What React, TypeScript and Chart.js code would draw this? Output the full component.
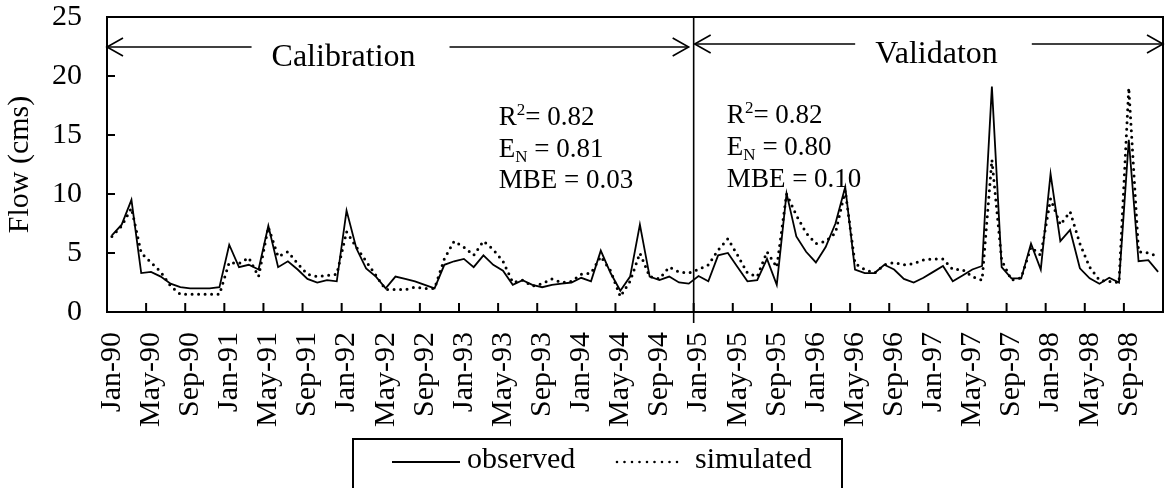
import React, { useEffect, useRef } from 'react';
import { Chart, registerables } from 'chart.js';
Chart.register(...registerables);

const MONTHS = ['Jan', 'Feb', 'Mar', 'Apr', 'May', 'Jun', 'Jul', 'Aug', 'Sep', 'Oct', 'Nov', 'Dec'];
const YEARS = ['90', '91', '92', '93', '94', '95', '96', '97', '98'];
const categories: string[] = YEARS.flatMap((y) => MONTHS.map((m) => `${m}-${y}`));
const TICK_EVERY = 4;

// Calibration period Jan-90 .. Dec-94
const observedCalibration = [
  6.5, 7.4, 9.5, 3.3, 3.4, 3.0, 2.4, 2.1, 2.0, 2.0, 2.0, 2.1,
  5.7, 3.8, 4.0, 3.6, 7.3, 3.8, 4.3, 3.6, 2.8, 2.5, 2.7, 2.6,
  8.6, 5.4, 3.7, 3.0, 2.0, 3.0, 2.8, 2.6, 2.3, 2.0, 4.0, 4.3,
  4.5, 3.8, 4.8, 4.0, 3.5, 2.3, 2.7, 2.3, 2.1, 2.3, 2.4, 2.5,
  2.9, 2.6, 5.2, 3.3, 1.8, 3.0, 7.4, 3.0, 2.7, 3.0, 2.5, 2.4,
];
const simulatedCalibration = [
  6.4, 7.3, 8.8, 5.0, 4.2, 3.4, 2.2, 1.5, 1.5, 1.5, 1.5, 1.5,
  4.2, 4.1, 4.6, 3.0, 7.2, 4.7, 5.1, 4.1, 3.2, 3.0, 3.1, 3.2,
  6.8, 5.5, 4.3, 3.1, 1.9, 1.9, 1.9, 2.1, 2.0, 2.0, 4.5, 6.0,
  5.5, 4.8, 6.0, 5.3, 4.3, 2.5, 2.7, 2.2, 2.4, 2.8, 2.5, 2.6,
  3.2, 3.3, 4.7, 3.5, 1.3, 2.6, 5.0, 3.0, 2.8, 3.8, 3.4, 3.3,
];
// Validation period Jan-95 .. Dec-98
const observedValidation = [
  3.05, 2.6, 4.8, 5.0, 3.8, 2.6, 2.7, 4.5, 2.3, 10.05, 6.4, 5.1,
  4.2, 5.5, 7.5, 10.6, 3.6, 3.3, 3.3, 4.0, 3.6, 2.8, 2.5, 2.9,
  3.4, 3.9, 2.6, 3.1, 3.6, 3.9, 19.1, 3.8, 2.85, 2.85, 5.8, 3.6,
  11.7, 6.0, 6.95, 3.7, 2.85, 2.4, 2.9, 2.5, 14.6, 4.3, 4.4, 3.4,
];
const simulatedValidation = [
  3.6, 4.0, 5.25, 6.2, 4.8, 3.3, 3.0, 5.1, 3.8, 10.0, 8.2, 6.7,
  5.8, 6.0, 6.7, 10.3, 4.1, 3.6, 3.3, 4.0, 4.2, 4.0, 4.1, 4.4,
  4.5, 4.5, 3.6, 3.6, 3.0, 2.7, 12.9, 4.4, 2.7, 2.9, 5.5, 4.8,
  9.6, 7.4, 8.5, 5.8, 3.8, 2.7, 2.6, 2.5, 19.0, 5.1, 5.0, 4.7,
];
const observed = [...observedCalibration, ...observedValidation];
const simulated = [...simulatedCalibration, ...simulatedValidation];

const Y_TICKS = [0, 5, 10, 15, 20, 25];
const calibrationStats = ['0.82', '0.81', '0.03'];
const validationStats = ['0.82', '0.80', '0.10'];
const periodLabels = ['Calibration', 'Validaton'];
const seriesLabels = ['observed', 'simulated'];

const SERIF = '"Liberation Serif", "Times New Roman", Times, serif';

function line(ctx: CanvasRenderingContext2D, x1: number, y1: number, x2: number, y2: number) {
  ctx.beginPath();
  ctx.moveTo(x1, y1);
  ctx.lineTo(x2, y2);
  ctx.stroke();
}

function drawStats(ctx: CanvasRenderingContext2D, left: number, baselines: number[], vals: string[]) {
  const big = `27px ${SERIF}`;
  const small = `17px ${SERIF}`;
  ctx.textAlign = 'left';
  ctx.textBaseline = 'alphabetic';
  let x = left;
  ctx.font = big; ctx.fillText('R', x, baselines[0]); x += ctx.measureText('R').width;
  ctx.font = small; ctx.fillText('2', x, baselines[0] - 10); x += ctx.measureText('2').width;
  ctx.font = big; ctx.fillText('= ' + vals[0], x, baselines[0]);
  x = left;
  ctx.font = big; ctx.fillText('E', x, baselines[1]); x += ctx.measureText('E').width;
  ctx.font = small; ctx.fillText('N', x, baselines[1] + 5); x += ctx.measureText('N').width;
  ctx.font = big; ctx.fillText(' = ' + vals[1], x, baselines[1]);
  ctx.font = big; ctx.fillText('MBE = ' + vals[2], left, baselines[2]);
}

function drawPeriod(
  ctx: CanvasRenderingContext2D, x1: number, x2: number, y: number, textCx: number, textY: number, text: string
) {
  ctx.font = `32px ${SERIF}`;
  ctx.textAlign = 'center';
  ctx.textBaseline = 'alphabetic';
  const w = ctx.measureText(text).width;
  ctx.fillText(text, textCx, textY);
  ctx.lineWidth = 1.6;
  line(ctx, x1, y, textCx - w / 2 - 20, y);
  line(ctx, textCx + w / 2 + 34, y, x2, y);
  const ah = 16, aw = 9;
  ctx.beginPath();
  ctx.moveTo(x1 + ah, y - aw); ctx.lineTo(x1, y); ctx.lineTo(x1 + ah, y + aw);
  ctx.stroke();
  ctx.beginPath();
  ctx.moveTo(x2 - ah, y - aw); ctx.lineTo(x2, y); ctx.lineTo(x2 - ah, y + aw);
  ctx.stroke();
}

const decorPlugin = {
  id: 'decor',
  afterDraw(chart: any) {
    const { ctx, chartArea: a, scales } = chart;
    const xs = scales.x, ys = scales.y;
    const step = xs.getPixelForValue(1) - xs.getPixelForValue(0);
    const W = a.right - a.left;
    ctx.save();
    ctx.strokeStyle = '#000';
    ctx.fillStyle = '#000';
    ctx.lineWidth = 2;
    ctx.strokeRect(a.left, a.top, W, a.bottom - a.top);
    Y_TICKS.forEach((v) => {
      if (v > Y_TICKS[0] && v < Y_TICKS[Y_TICKS.length - 1]) {
        const py = ys.getPixelForValue(v);
        line(ctx, a.left, py, a.left + 8, py);
      }
    });
    for (let i = TICK_EVERY; i < categories.length; i += TICK_EVERY) {
      const px = xs.getPixelForValue(i) - step / 2;
      line(ctx, px, a.bottom, px, a.bottom - 9);
    }
    const dx = xs.getPixelForValue(observedCalibration.length) - step / 2;
    ctx.lineWidth = 1.6;
    line(ctx, dx, a.top, dx, a.bottom + 11);
    drawPeriod(ctx, a.left, dx - 5, a.top + 30, a.left + 0.224 * W, a.top + 49, periodLabels[0]);
    drawPeriod(ctx, dx + 1, a.right, a.top + 27, a.left + 0.7855 * W, a.top + 46, periodLabels[1]);
    drawStats(ctx, a.left + 0.371 * W, [a.top + 108, a.top + 140, a.top + 171], calibrationStats);
    drawStats(ctx, a.left + 0.587 * W, [a.top + 106, a.top + 138, a.top + 170], validationStats);

    const L = { left: 353, top: 439, right: 842 };
    ctx.lineWidth = 2;
    ctx.beginPath();
    ctx.moveTo(L.left, chart.height + 5);
    ctx.lineTo(L.left, L.top);
    ctx.lineTo(L.right, L.top);
    ctx.lineTo(L.right, chart.height + 5);
    ctx.stroke();
    const items = [
      { x: 392, len: 68, textX: 467 },
      { x: 617, len: 61, textX: 695 },
    ];
    chart.data.datasets.forEach((ds: any, k: number) => {
      const it = items[k];
      ctx.save();
      ctx.lineWidth = k === 0 ? 1.8 : 2.6;
      ctx.lineCap = k === 0 ? 'butt' : 'round';
      ctx.setLineDash(k === 0 ? [] : [0, 7.5]);
      line(ctx, it.x, 462, it.x + it.len, 462);
      ctx.restore();
      ctx.font = `30px ${SERIF}`;
      ctx.textAlign = 'left';
      ctx.textBaseline = 'alphabetic';
      ctx.fillText(ds.label, it.textX, 468);
    });
    ctx.restore();
  },
};

export default function App() {
  const ref = useRef<HTMLCanvasElement>(null);
  useEffect(() => {
    if (!ref.current) return;
    const chart = new Chart(ref.current, {
      type: 'line',
      data: {
        labels: categories,
        datasets: [
          {
            label: seriesLabels[0],
            data: observed,
            borderColor: '#000',
            borderWidth: 1.8,
            pointRadius: 0,
            tension: 0,
            fill: false,
          },
          {
            label: seriesLabels[1],
            data: simulated,
            borderColor: '#000',
            borderWidth: 3,
            borderDash: [0, 6.5],
            borderCapStyle: 'round',
            pointRadius: 0,
            tension: 0,
            fill: false,
          },
        ],
      },
      options: {
        responsive: false,
        animation: false,
        layout: { padding: { left: 0, right: 4, top: 17, bottom: 0 } },
        plugins: { legend: { display: false }, tooltip: { enabled: false } },
        scales: {
          x: {
            type: 'category',
            offset: true,
            grid: { display: false, drawTicks: false, offset: true },
            border: { display: false },
            ticks: {
              autoSkip: false,
              minRotation: 90,
              maxRotation: 90,
              padding: 20,
              color: '#000',
              font: { family: SERIF, size: 30 },
              callback: (_v: any, i: number) => (i % TICK_EVERY === 0 ? categories[i] : ''),
            },
            afterFit: (s: any) => {
              s.height = 176;
              s.paddingLeft = 0;
              s.paddingRight = 0;
            },
          },
          y: {
            min: Y_TICKS[0],
            max: Y_TICKS[Y_TICKS.length - 1],
            grid: { display: false, drawTicks: false },
            border: { display: false },
            ticks: {
              stepSize: 5,
              padding: 25,
              color: '#000',
              font: { family: SERIF, size: 30 },
            },
            title: {
              display: true,
              text: 'Flow (cms)',
              color: '#000',
              font: { family: SERIF, size: 30 },
              padding: { top: 2, bottom: 0 },
            },
            afterFit: (s: any) => {
              s.width = 107;
              s.paddingTop = 0;
              s.paddingBottom = 0;
            },
          },
        },
      },
      plugins: [decorPlugin],
    });
    return () => chart.destroy();
  }, []);
  return (
    <div style={{ position: 'fixed', left: 0, top: 0, width: 1167, height: 488, background: '#fff' }}>
      <canvas ref={ref} width={1167} height={488} />
    </div>
  );
}
